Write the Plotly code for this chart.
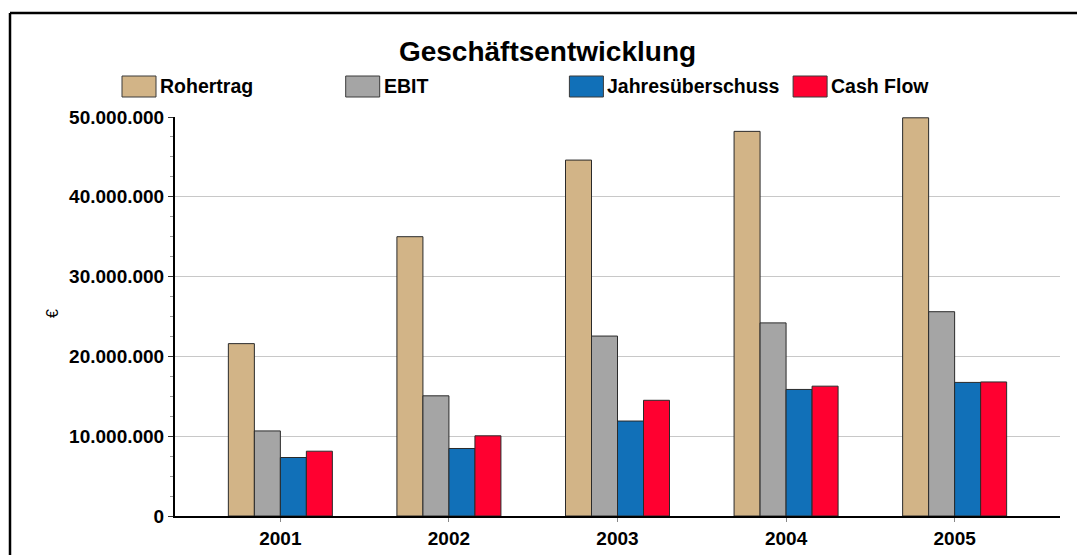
import plotly.graph_objects as go

years = ["2001", "2002", "2003", "2004", "2005"]
series_names = ["Rohertrag", "EBIT", "Jahresüberschuss", "Cash Flow"]
rohertrag = [21.6e6, 35.0e6, 44.6e6, 48.2e6, 49.9e6]
ebit = [10.66e6, 15.06e6, 22.55e6, 24.2e6, 25.6e6]
jahresueberschuss = [7.33e6, 8.46e6, 11.9e6, 15.86e6, 16.74e6]
cash_flow = [8.12e6, 10.05e6, 14.5e6, 16.27e6, 16.8e6]
colors = ["#D2B487", "#A5A5A5", "#1170B8", "#FF0030"]
title_text = "Geschäftsentwicklung"
y_title = "€"

W, H = 1077, 555
L, R, T, B = 175, 17, 117, 39
PW, PH = W - L - R, H - T - B

def px(x):
    return (x - L) / PW

def py(y):
    return (H - B - y) / PH

FONT = "Liberation Sans, Arial, sans-serif"

fig = go.Figure()
for name, vals, col in zip(series_names, [rohertrag, ebit, jahresueberschuss, cash_flow], colors):
    fig.add_trace(go.Bar(
        x=years, y=vals, name=name,
        marker=dict(color=col, line=dict(color="#2a2a2a", width=1)),
        showlegend=False,
    ))

shapes = []
annotations = []
# outer frame
shapes.append(dict(type="line", xref="paper", yref="paper", x0=px(10), x1=px(1080), y0=py(13), y1=py(13),
                   line=dict(color="black", width=2.5)))
shapes.append(dict(type="line", xref="paper", yref="paper", x0=px(10), x1=px(10), y0=py(13), y1=py(560),
                   line=dict(color="black", width=2.5)))
# manual legend
for i, (name, col) in enumerate(zip(series_names, colors)):
    x0 = 122 + i * 223.7
    shapes.append(dict(type="rect", xref="paper", yref="paper", x0=px(x0), x1=px(x0 + 34),
                       y0=py(97), y1=py(76), fillcolor=col, line=dict(color="#3a3a3a", width=1)))
    annotations.append(dict(xref="paper", yref="paper", x=px(x0 + 36), y=py(86.5), text=name,
                            showarrow=False, xanchor="left", yanchor="middle",
                            font=dict(family=FONT, size=19.5, color="black", weight="bold")))
annotations.append(dict(xref="paper", yref="paper", x=px(52), y=py(314), text=y_title, textangle=-90,
                        showarrow=False, xanchor="center", yanchor="middle",
                        font=dict(family=FONT, size=16, color="black")))

fig.update_layout(
    width=W, height=H, autosize=False,
    margin=dict(l=L, r=R, t=T, b=B, autoexpand=False),
    paper_bgcolor="white", plot_bgcolor="white",
    barmode="group", bargap=0.383, bargroupgap=0,
    separators=",.",
    title=dict(text=title_text, x=547.5 / W, xref="container", xanchor="center",
               y=1 - 51 / H, yref="container", yanchor="middle",
               font=dict(family=FONT, size=28, color="black", weight="bold")),
    shapes=shapes, annotations=annotations,
    font=dict(family=FONT, color="black"),
    xaxis=dict(range=[-0.625, 4.625], showline=True, linecolor="black", linewidth=2,
               ticks="outside", ticklen=4, tickcolor="#888888", automargin=False,
               tickfont=dict(family=FONT, size=19, color="black", weight="bold"),
               showgrid=False, zeroline=False),
    yaxis=dict(range=[0, 50e6], dtick=10e6, tickformat=",d", showline=True, linecolor="black", linewidth=2,
               ticks="outside", ticklen=5, tickcolor="#333333", automargin=False,
               minor=dict(dtick=2.5e6, ticks="outside", ticklen=3, tickcolor="#999999", showgrid=False),
               showgrid=True, gridcolor="#C8C8C8", gridwidth=1, zeroline=False,
               tickfont=dict(family=FONT, size=19, color="black", weight="bold")),
)

fig.write_html("out.html", config={"displayModeBar": False},
               post_script="document.body.style.margin='0';document.body.style.overflow='hidden';")
